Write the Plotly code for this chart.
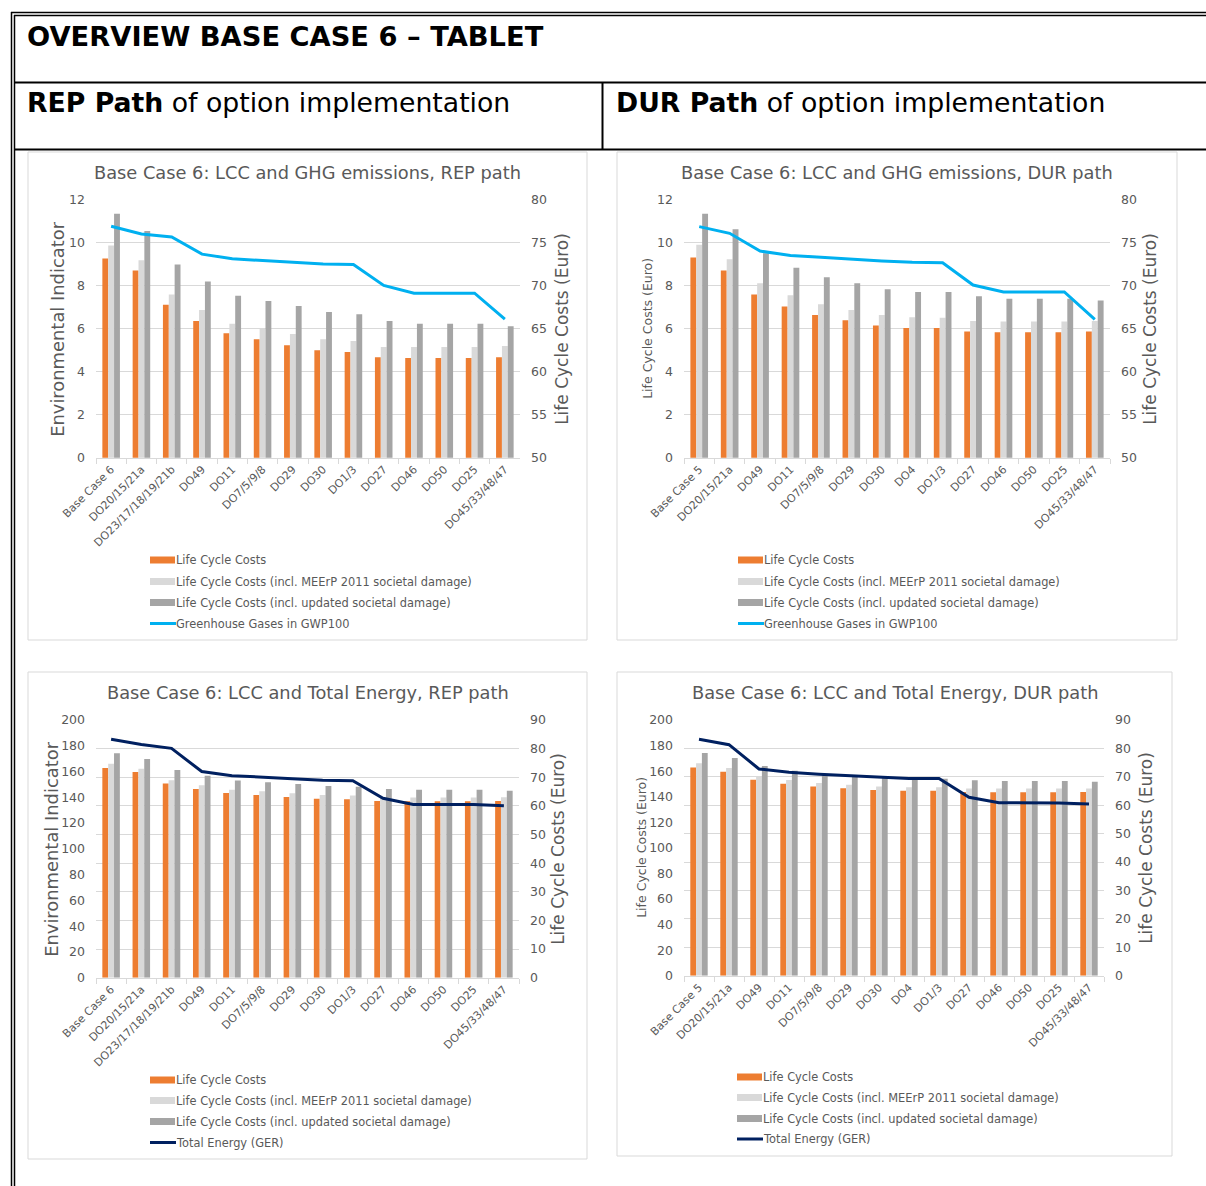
import plotly.graph_objects as go

W, H = 1206, 1186

# ---- data -------------------------------------------------------------
rep_categories = ["Base Case 6", "DO20/15/21a", "DO23/17/18/19/21b", "DO49", "DO11",
                  "DO7/5/9/8", "DO29", "DO30", "DO1/3", "DO27", "DO46", "DO50",
                  "DO25", "DO45/33/48/47"]
dur_categories = ["Base Case 5", "DO20/15/21a", "DO49", "DO11", "DO7/5/9/8", "DO29",
                  "DO30", "DO4", "DO1/3", "DO27", "DO46", "DO50", "DO25",
                  "DO45/33/48/47"]

# life cycle costs (Euro)
rep_lcc = [73.2, 71.8, 67.8, 65.9, 64.5, 63.8, 63.1, 62.5, 62.3, 61.7, 61.6, 61.6, 61.6, 61.7]
rep_lcc_meerp = [74.7, 73.0, 69.0, 67.2, 65.6, 65.1, 64.4, 63.8, 63.6, 62.9, 62.9, 62.9, 62.9, 63.0]
rep_lcc_updated = [78.4, 76.4, 72.5, 70.5, 68.85, 68.25, 67.65, 66.95, 66.7, 65.9, 65.6, 65.6, 65.6, 65.3]
dur_lcc = [73.3, 71.8, 69.0, 67.6, 66.6, 66.0, 65.4, 65.1, 65.1, 64.7, 64.6, 64.6, 64.6, 64.7]
dur_lcc_meerp = [74.8, 73.1, 70.3, 68.9, 67.85, 67.2, 66.6, 66.35, 66.3, 65.9, 65.85, 65.85, 65.85, 65.9]
dur_lcc_updated = [78.4, 76.6, 73.8, 72.1, 71.0, 70.3, 69.6, 69.3, 69.3, 68.8, 68.5, 68.5, 68.5, 68.3]

# environmental indicators
rep_ghg = [10.78, 10.42, 10.28, 9.48, 9.26, 9.19, 9.11, 9.02, 9.0, 8.02, 7.66, 7.66, 7.66, 6.45]
dur_ghg = [10.76, 10.45, 9.62, 9.42, 9.33, 9.24, 9.16, 9.1, 9.08, 8.04, 7.72, 7.72, 7.72, 6.44]
rep_ger = [185, 181, 178, 160, 156.8, 155.8, 154.5, 153.2, 152.9, 139.2, 134.5, 134.5, 134.5, 133.5]
dur_ger = [185, 180.7, 161.7, 159.1, 157.5, 156.5, 155.1, 154.2, 154.2, 139.5, 135.3, 135.2, 135.1, 134.3]

series_names = ["Life Cycle Costs",
                "Life Cycle Costs (incl. MEErP 2011 societal damage)",
                "Life Cycle Costs (incl. updated societal damage)"]

# ---- style ------------------------------------------------------------
FONT = "DejaVu Sans"
ORANGE = "#ED7D31"
LIGHT = "#D9D9D9"
DARK = "#A5A5A5"
CYAN = "#00B0F0"
NAVY = "#002060"
TXT = "#595959"
GRID = "#D9D9D9"
BOX = "#D9D9D9"
bar_colors = [ORANGE, LIGHT, DARK]


def fx(x):
    return x / W


def fy(y):
    return 1 - y / H


panels = [
    dict(cats=rep_categories, bars=[rep_lcc, rep_lcc_meerp, rep_lcc_updated],
         ind=rep_ghg, ind_name="Greenhouse Gases in GWP100", ind_color=CYAN,
         title="Base Case 6: LCC and GHG emissions, REP path",
         box=(28, 152, 587, 640), plot=(96, 200, 520, 457.7),
         bar_range=[50, 80], bar_dtick=5, ind_range=[0, 12], ind_dtick=2,
         left_title="Environmental Indicator", left_size=17.9, left_x=58,
         right_x=562, leg_x=150, leg_y=[560, 581.5, 602.5, 623.5]),
    dict(cats=dur_categories, bars=[dur_lcc, dur_lcc_meerp, dur_lcc_updated],
         ind=dur_ghg, ind_name="Greenhouse Gases in GWP100", ind_color=CYAN,
         title="Base Case 6: LCC and GHG emissions, DUR path",
         box=(617, 152, 1177, 640), plot=(684, 200, 1110, 457.7),
         bar_range=[50, 80], bar_dtick=5, ind_range=[0, 12], ind_dtick=2,
         left_title="Life Cycle Costs (Euro)", left_size=12.5, left_x=648,
         right_x=1150, leg_x=738, leg_y=[560, 581.5, 602.5, 623.5]),
    dict(cats=rep_categories, bars=[rep_lcc, rep_lcc_meerp, rep_lcc_updated],
         ind=rep_ger, ind_name="Total Energy (GER)", ind_color=NAVY,
         title="Base Case 6: LCC and Total Energy, REP path",
         box=(28, 672, 587, 1159), plot=(96, 720, 519, 977.7),
         bar_range=[0, 90], bar_dtick=10, ind_range=[0, 200], ind_dtick=20,
         left_title="Environmental Indicator", left_size=17.9, left_x=52,
         right_x=558, leg_x=150, leg_y=[1080, 1100.5, 1121.5, 1142.5]),
    dict(cats=dur_categories, bars=[dur_lcc, dur_lcc_meerp, dur_lcc_updated],
         ind=dur_ger, ind_name="Total Energy (GER)", ind_color=NAVY,
         title="Base Case 6: LCC and Total Energy, DUR path",
         box=(617, 672, 1172, 1156), plot=(684, 720, 1104, 975.7),
         bar_range=[0, 90], bar_dtick=10, ind_range=[0, 200], ind_dtick=20,
         left_title="Life Cycle Costs (Euro)", left_size=12.5, left_x=642,
         right_x=1146, leg_x=737, leg_y=[1077, 1097.5, 1118.5, 1139]),
]


def key(prefix, n):
    return prefix + ("" if n == 1 else str(n))


def ref(letter, n):
    return letter + ("" if n == 1 else str(n))


fig = go.Figure()
layout = dict(
    width=W, height=H, margin=dict(l=0, r=0, t=0, b=0, pad=0, autoexpand=False),
    paper_bgcolor="white", plot_bgcolor="rgba(0,0,0,0)",
    font=dict(family=FONT, color=TXT, size=12),
    barmode="group", bargap=0.42, bargroupgap=0,
    showlegend=False,
)
shapes = []
annotations = []

for i, p in enumerate(panels, start=1):
    xn, yb, yl = i, 2 * i - 1, 2 * i
    x0, y0, x1, y1 = p["plot"]

    # bars: life cycle costs on the right-hand axis
    for vals, name, col in zip(p["bars"], series_names, bar_colors):
        fig.add_trace(go.Bar(x=p["cats"], y=vals, name=name, marker_color=col,
                             marker_line_width=0,
                             xaxis=ref("x", xn), yaxis=ref("y", yb)))
    # line: environmental indicator on the left-hand axis (drawn on top)
    fig.add_trace(go.Scatter(x=p["cats"], y=p["ind"], name=p["ind_name"], mode="lines",
                             line=dict(color=p["ind_color"], width=3),
                             xaxis=ref("x", xn), yaxis=ref("y", yl)))

    layout[key("xaxis", xn)] = dict(
        domain=[fx(x0), fx(x1)], anchor=ref("y", yb), type="category",
        automargin=False,
        showline=True, linecolor=GRID, linewidth=1, showgrid=False,
        ticks="outside", tickson="boundaries", ticklen=5, tickcolor=GRID,
        tickangle=-45, tickfont=dict(size=11, color=TXT), fixedrange=True)
    layout[key("yaxis", yb)] = dict(
        domain=[fy(y1), fy(y0)], anchor=ref("x", xn), side="right",
        automargin=False,
        range=p["bar_range"], tickmode="linear", tick0=p["bar_range"][0],
        dtick=p["bar_dtick"], showgrid=True, gridcolor=GRID, gridwidth=1,
        zeroline=False, showline=False, ticks="", ticklabelstandoff=10,
        tickfont=dict(size=12.5, color=TXT))
    layout[key("yaxis", yl)] = dict(
        overlaying=ref("y", yb), anchor=ref("x", xn), side="left",
        automargin=False,
        range=p["ind_range"], tickmode="linear", tick0=0, dtick=p["ind_dtick"],
        showgrid=False, zeroline=False, showline=False, ticks="",
        ticklabelstandoff=10, tickfont=dict(size=12.5, color=TXT))

    # chart frame
    bx0, by0, bx1, by1 = p["box"]
    shapes.append(dict(type="rect", xref="paper", yref="paper",
                       x0=fx(bx0), x1=fx(bx1), y0=fy(by1), y1=fy(by0),
                       line=dict(color=BOX, width=1), fillcolor="rgba(0,0,0,0)",
                       layer="below"))
    # chart title
    annotations.append(dict(text=p["title"], x=fx((bx0 + bx1) / 2), y=fy(by0 + 20),
                            xref="paper", yref="paper", xanchor="center",
                            yanchor="middle", showarrow=False,
                            font=dict(size=17.8, color=TXT)))
    # axis titles
    ymid = fy((y0 + y1) / 2)
    annotations.append(dict(text=p["left_title"], x=fx(p["left_x"]), y=ymid,
                            xref="paper", yref="paper", xanchor="center",
                            yanchor="middle", textangle=-90, showarrow=False,
                            font=dict(size=p["left_size"], color=TXT)))
    annotations.append(dict(text="Life Cycle Costs (Euro)", x=fx(p["right_x"]), y=ymid,
                            xref="paper", yref="paper", xanchor="center",
                            yanchor="middle", textangle=-90, showarrow=False,
                            font=dict(size=17, color=TXT)))

    # legend
    lx = p["leg_x"]
    for (name, col), ly in zip(zip(series_names, bar_colors), p["leg_y"][:3]):
        shapes.append(dict(type="rect", xref="paper", yref="paper",
                           x0=fx(lx), x1=fx(lx + 25), y0=fy(ly + 3.5), y1=fy(ly - 3.5),
                           line=dict(width=0), fillcolor=col))
        annotations.append(dict(text=name, x=fx(lx + 24), y=fy(ly), xref="paper",
                                yref="paper", xanchor="left", yanchor="middle",
                                showarrow=False, font=dict(size=11.4, color=TXT)))
    ly = p["leg_y"][3]
    shapes.append(dict(type="line", xref="paper", yref="paper",
                       x0=fx(lx), x1=fx(lx + 26), y0=fy(ly), y1=fy(ly),
                       line=dict(color=p["ind_color"], width=3)))
    annotations.append(dict(text=p["ind_name"], x=fx(lx + 24), y=fy(ly), xref="paper",
                            yref="paper", xanchor="left", yanchor="middle",
                            showarrow=False, font=dict(size=11.4, color=TXT)))

# ---- surrounding table ---------------------------------------------------
def hline(y, xa, xb, w=2):
    shapes.append(dict(type="line", xref="paper", yref="paper", x0=fx(xa), x1=fx(xb),
                       y0=fy(y), y1=fy(y), line=dict(color="black", width=w)))


def vline(x, ya, yb, w=2):
    shapes.append(dict(type="line", xref="paper", yref="paper", x0=fx(x), x1=fx(x),
                       y0=fy(ya), y1=fy(yb), line=dict(color="black", width=w)))


hline(12.5, 11, W, 1.5)
hline(15.5, 14, W, 1.5)
vline(11.5, 12, H, 1.5)
vline(14.5, 15, H, 1.5)
hline(82.5, 14, W, 2)
hline(149.5, 14, W, 2)
vline(602.5, 82, 150, 2)

annotations.append(dict(text="<b>OVERVIEW BASE CASE 6 – TABLET</b>", x=fx(25), y=fy(36),
                        xref="paper", yref="paper", xanchor="left", yanchor="middle",
                        showarrow=False, font=dict(size=27.3, color="black", family=FONT)))
annotations.append(dict(text="<b>REP Path</b> of option implementation", x=fx(25), y=fy(102),
                        xref="paper", yref="paper", xanchor="left", yanchor="middle",
                        showarrow=False, font=dict(size=26.7, color="black", family=FONT)))
annotations.append(dict(text="<b>DUR Path</b> of option implementation", x=fx(614), y=fy(102),
                        xref="paper", yref="paper", xanchor="left", yanchor="middle",
                        showarrow=False, font=dict(size=26.7, color="black", family=FONT)))

layout["shapes"] = shapes
layout["annotations"] = annotations
fig.update_layout(**layout)

fig.write_html("out.html", config={"displayModeBar": False})
